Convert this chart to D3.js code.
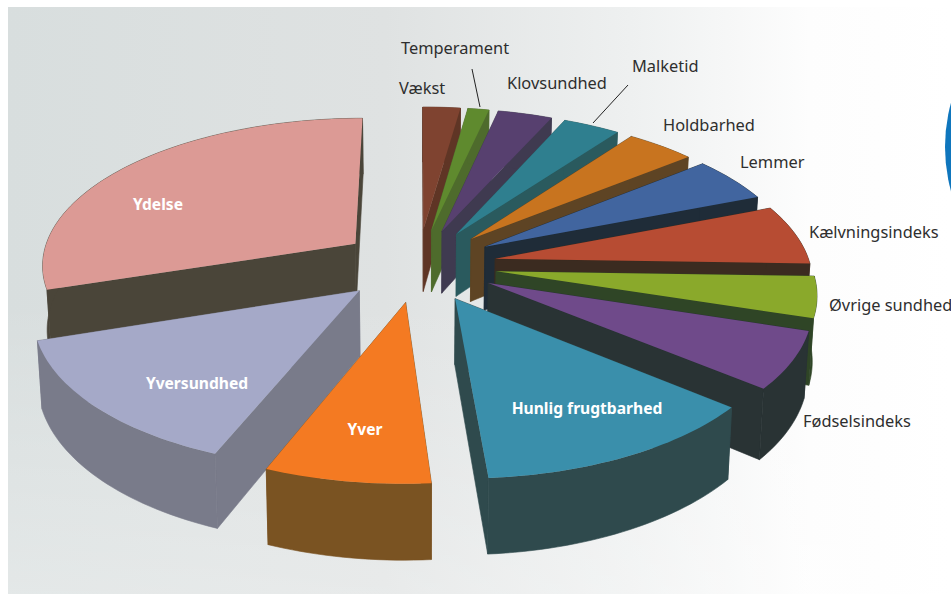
<!DOCTYPE html>
<html>
<head>
<meta charset="utf-8">
<script src="https://cdn.jsdelivr.net/npm/d3@7"></script>
<style>
  html, body { margin: 0; padding: 0; background: #fff; }
  svg { display: block; }
  text { font-family: "Noto Sans", sans-serif; }
</style>
</head>
<body>
<svg id="chart"></svg>
<script>
const categories = ["Vækst", "Temperament", "Klovsundhed", "Malketid", "Holdbarhed", "Lemmer", "Kælvningsindeks",
  "Øvrige sundhed", "Fødselsindeks", "Hunlig frugtbarhed", "Yver", "Yversundhed", "Ydelse"]
const values = [2.22, 1.25, 3.22, 3.37, 4.06, 4.9, 6.45, 4.4, 6.1, 12.78, 7.2, 13.9, 30.0]

const topColors = ["#7f4330", "#5f8a2e", "#57406f", "#2f7f8f", "#c8741f", "#41659f", "#b74c33",
  "#8aa92b", "#6f4a8a", "#3a8fab", "#f47a22", "#a5a9c8", "#dc9a95"]
const sideColors = ["#5f3525", "#4e6b2c", "#3f3a50", "#2a5a5e", "#5e4424", "#1f2c38", "#3b2b20",
  "#2f4526", "#293334", "#2f4a4d", "#7a5322", "#797b8a", "#4a4539"]

// label name, x, baseline y
const labelLayout = [
  ["Vækst", 399, 94], ["Temperament", 401, 54], ["Klovsundhed", 507, 89], ["Malketid", 632, 72],
  ["Holdbarhed", 663, 131], ["Lemmer", 740, 168], ["Kælvningsindeks", 809, 238],
  ["Øvrige sundhed", 829, 311], ["Fødselsindeks", 803, 427]
]
const innerLabels = [["Ydelse", 158, 210], ["Yversundhed", 197, 389], ["Yver", 365, 435], ["Hunlig frugtbarhed", 587, 414]]

const width = 951, height = 594
const cx = 418, cy = 265
const radiusX = 315, radiusY = 147, depth = 64
const perspective = 0.13, explode = 0.25, taper = 0.012

const svg = d3.select("#chart").attr("width", width).attr("height", height)

// scanned paper background
const defs = svg.append("defs")
const grad = defs.append("linearGradient").attr("id", "paper")
grad.selectAll("stop")
  .data([[0, "#d8dede"], [0.4, "#dfe2e2"], [0.66, "#eef0f0"], [0.85, "#fdfdfd"], [1, "#ffffff"]])
  .enter().append("stop")
  .attr("offset", d => d[0])
  .attr("stop-color", d => d[1])
const fade = defs.append("linearGradient").attr("id", "fade").attr("x2", 0).attr("y2", 1)
fade.selectAll("stop")
  .data([[0.5, 0], [1, 0.3]])
  .enter().append("stop")
  .attr("offset", d => d[0])
  .attr("stop-color", "#fff")
  .attr("stop-opacity", d => d[1])
svg.append("rect").attr("width", width).attr("height", height).attr("fill", "#fff")
svg.append("rect").attr("x", 8).attr("y", 7).attr("width", width - 8).attr("height", height - 7).attr("fill", "url(#paper)")
svg.append("rect").attr("x", 8).attr("y", 7).attr("width", width - 8).attr("height", height - 7).attr("fill", "url(#fade)")
svg.append("circle").attr("cx", 1112).attr("cy", 147).attr("r", 167).attr("fill", "#0f76bd")

const pie = d3.pie().sort(null)

const slices = pie(values).map((d, i) => {
  const mid = (d.startAngle + d.endAngle) / 2
  return { ...d, i, mid, name: categories[i] }
})

// pie plane to screen, r in pie radii, z 0 top and 1 bottom of the slab
const project = (s, theta, r, z) => {
  const u = r * Math.sin(theta) + explode * Math.sin(s.mid)
  const v = -r * Math.cos(theta) - explode * Math.cos(s.mid)
  const k = 1 / (1 - perspective * v)
  return [cx + radiusX * u * k * (1 - taper * z), cy + (radiusY * v + depth * z) * k]
}

const line = d3.line()

const rimAngles = (s) => {
  const n = Math.max(4, Math.ceil((s.endAngle - s.startAngle) * 40))
  return d3.range(n + 1).map(j => s.startAngle + (s.endAngle - s.startAngle) * j / n)
}

const draw = svg.append("g")
const ordered = slices.slice().sort((a, b) => -Math.cos(a.mid) - -Math.cos(b.mid))

ordered.forEach(s => {
  const g = draw.append("g")
  const angles = rimAngles(s)
  const cut = (a) => [project(s, a, 0, 0), project(s, a, 1, 0), project(s, a, 1, 1), project(s, a, 0, 1)]
  const rimTop = angles.map(a => project(s, a, 1, 0))
  const rimBottom = angles.map(a => project(s, a, 1, 1))
  const side = (p) => g.append("path").attr("d", p)
    .attr("fill", sideColors[s.i]).attr("stroke", sideColors[s.i]).attr("stroke-width", 0.6)

  // cut faces, the far one first
  const cuts = [s.startAngle, s.endAngle].sort((a, b) => Math.cos(b) - Math.cos(a))
  cuts.forEach(a => side(line(cut(a)) + "Z"))
  side(line(rimTop.concat(rimBottom.reverse())) + "Z")
  g.append("path").attr("d", line([project(s, 0, 0, 0)].concat(rimTop)) + "Z").attr("fill", topColors[s.i])
})

// leader lines
const leaders = [[[472, 69], [480, 107]], [[628, 85], [593, 123]]]
svg.selectAll(".leader").data(leaders).enter().append("path")
  .attr("class", "leader")
  .attr("d", d => line(d))
  .attr("stroke", "#222").attr("stroke-width", 1).attr("fill", "none")

svg.selectAll(".outer").data(labelLayout).enter().append("text")
  .attr("class", "outer")
  .attr("x", d => d[1]).attr("y", d => d[2])
  .attr("font-size", 16.4).attr("fill", "#2e2e2e")
  .text(d => d[0])

svg.selectAll(".inner").data(innerLabels).enter().append("text")
  .attr("class", "inner")
  .attr("x", d => d[1]).attr("y", d => d[2])
  .attr("text-anchor", "middle")
  .attr("font-size", 15.6).attr("font-weight", 700).attr("fill", "#fff")
  .text(d => d[0])
</script>
</body>
</html>
